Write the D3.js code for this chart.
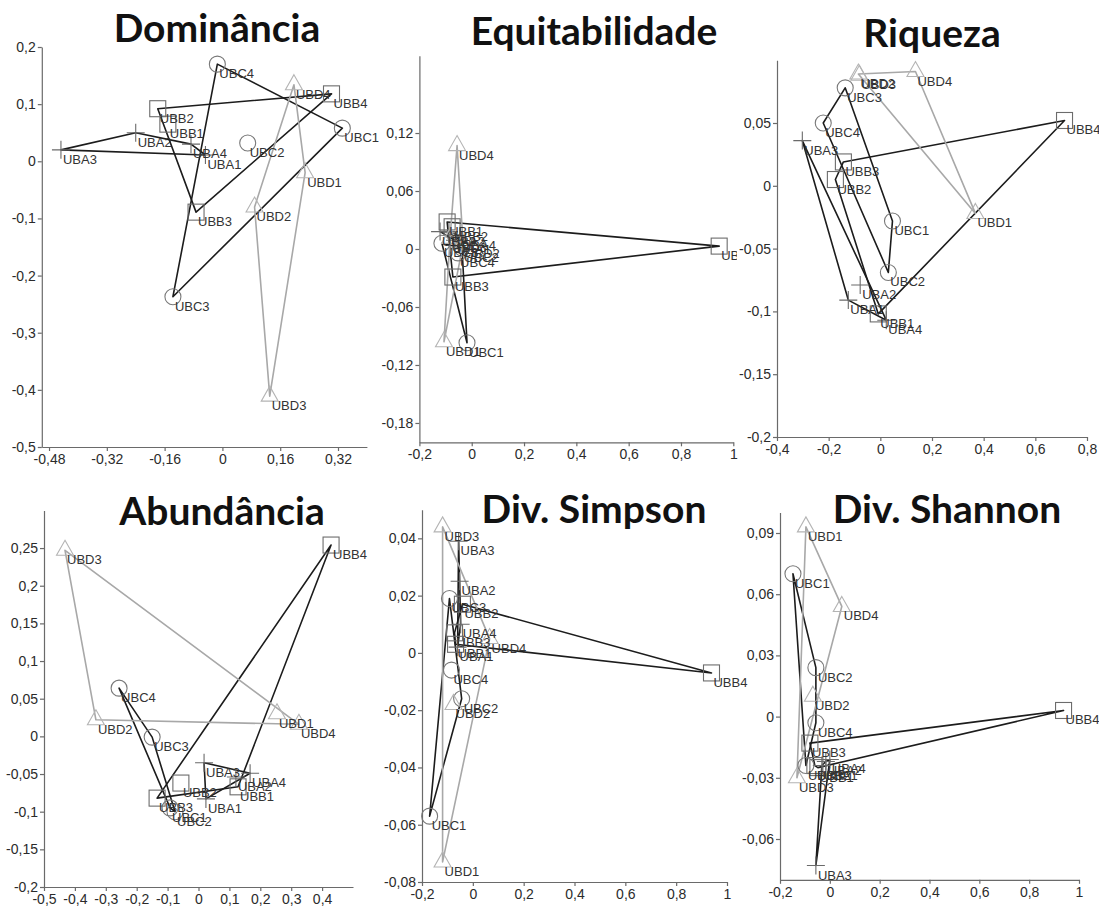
<!DOCTYPE html>
<html>
<head>
<meta charset="utf-8">
<script src="https://cdn.jsdelivr.net/npm/d3@7"></script>
<style>
  body { margin: 0; background: #fff; }
  svg { display: block; }
</style>
</head>
<body>
<svg id="chart" width="1099" height="909"></svg>
<script>
// Sample units (4 sites x 4 replicates)
const samples = ["UBA1","UBA2","UBA3","UBA4","UBB1","UBB2","UBB3","UBB4",
                 "UBC1","UBC2","UBC3","UBC4","UBD1","UBD2","UBD3","UBD4"];
const groups  = ["UBA","UBB","UBC","UBD"];

// Ordination scores (axis 1 / axis 2), one array per index
const dominanciaX = [-0.047,-0.240,-0.447,-0.087,-0.151,-0.179,-0.073,0.302,0.332,0.070,-0.137,-0.014,0.229,0.089,0.131,0.198];
const dominanciaY = [0.011,0.050,0.020,0.030,0.065,0.092,-0.089,0.118,0.058,0.032,-0.237,0.170,-0.020,-0.080,-0.411,0.134];

const equitabilidadeX = [-0.064,-0.087,-0.121,-0.045,-0.094,-0.075,-0.072,0.946,-0.018,-0.037,-0.114,-0.052,-0.106,-0.033,-0.083,-0.056];
const equitabilidadeY = [0.009,0.018,0.018,0.013,0.028,0.023,-0.029,0.003,-0.097,0.001,0.006,-0.004,-0.096,0.005,0.011,0.107];

const riquezaX = [-0.124,-0.078,-0.302,0.023,-0.008,-0.174,-0.143,0.713,0.047,0.031,-0.136,-0.221,0.368,-0.085,-0.081,0.136];
const riquezaY = [-0.091,-0.079,0.036,-0.107,-0.102,0.005,0.019,0.052,-0.028,-0.069,0.078,0.050,-0.022,0.089,0.088,0.091];

const abundanciaX = [0.024,0.121,0.018,0.167,0.128,-0.057,-0.134,0.429,-0.092,-0.076,-0.150,-0.257,0.254,-0.332,-0.432,0.325];
const abundanciaY = [-0.083,-0.054,-0.035,-0.049,-0.067,-0.062,-0.082,0.254,-0.095,-0.100,-0.001,0.064,0.030,0.022,0.247,0.016];

const simpsonX = [-0.060,-0.052,-0.056,-0.048,-0.068,-0.041,-0.072,0.939,-0.170,-0.044,-0.092,-0.084,-0.119,-0.076,-0.119,0.066];
const simpsonY = [0.002,0.025,0.039,0.010,0.003,0.017,0.007,-0.007,-0.057,-0.016,0.019,-0.006,-0.073,-0.018,0.044,0.005];

const shannonX = [-0.032,-0.016,-0.056,0.000,-0.048,-0.060,-0.080,0.938,-0.148,-0.056,-0.096,-0.056,-0.096,-0.068,-0.132,0.048];
const shannonY = [-0.024,-0.022,-0.073,-0.021,-0.025,-0.024,-0.013,0.003,0.070,0.024,-0.024,-0.003,0.093,0.010,-0.030,0.054];

// Tick labels
const dominanciaXTicks = [-0.48,-0.32,-0.16,0,0.16,0.32];
const dominanciaYTicks = [0.2,0.1,0,-0.1,-0.2,-0.3,-0.4,-0.5];
const equitabilidadeXTicks = [-0.2,0,0.2,0.4,0.6,0.8,1];
const equitabilidadeYTicks = [0.12,0.06,0,-0.06,-0.12,-0.18];
const riquezaXTicks = [-0.4,-0.2,0,0.2,0.4,0.6,0.8];
const riquezaYTicks = [0.05,0,-0.05,-0.1,-0.15,-0.2];
const abundanciaXTicks = [-0.5,-0.4,-0.3,-0.2,-0.1,0,0.1,0.2,0.3,0.4];
const abundanciaYTicks = [0.25,0.2,0.15,0.1,0.05,0,-0.05,-0.1,-0.15,-0.2];
const simpsonXTicks = [-0.2,0,0.2,0.4,0.6,0.8,1];
const simpsonYTicks = [0.04,0.02,0,-0.02,-0.04,-0.06,-0.08];
const shannonXTicks = [-0.2,0,0.2,0.4,0.6,0.8,1];
const shannonYTicks = [0.09,0.06,0.03,0,-0.03,-0.06];

// Panel layout: axis extents in data units and where they sit on the page
const panels = [
  { title: "Dominância", xs: dominanciaX, ys: dominanciaY, xt: dominanciaXTicks, yt: dominanciaYTicks,
    xd: [-0.5, 0.4], xr: [41.8, 366.9], yd: [-0.5, 0.2], yr: [447, 47], tx: 217, ty: 42 },
  { title: "Equitabilidade", xs: equitabilidadeX, ys: equitabilidadeY, xt: equitabilidadeXTicks, yt: equitabilidadeYTicks,
    xd: [-0.2, 1.0], xr: [419.4, 733.3], yd: [-0.2, 0.2], yr: [442.3, 55.7], tx: 594, ty: 45, clipRight: 737 },
  { title: "Riqueza", xs: riquezaX, ys: riquezaY, xt: riquezaXTicks, yt: riquezaYTicks,
    xd: [-0.4, 0.8], xr: [777, 1087], yd: [-0.2, 0.1], yr: [437, 60.2], tx: 932, ty: 47 },
  { title: "Abundância", xs: abundanciaX, ys: abundanciaY, xt: abundanciaXTicks, yt: abundanciaYTicks,
    xd: [-0.5, 0.5], xr: [44, 353], yd: [-0.2, 0.3], yr: [887, 510.4], tx: 222, ty: 525 },
  { title: "Div. Simpson", xs: simpsonX, ys: simpsonY, xt: simpsonXTicks, yt: simpsonYTicks,
    xd: [-0.2, 1.0], xr: [422, 727], yd: [-0.08, 0.05], yr: [882, 509.7], tx: 594, ty: 523 },
  { title: "Div. Shannon", xs: shannonX, ys: shannonY, xt: shannonXTicks, yt: shannonYTicks,
    xd: [-0.2, 1.0], xr: [780, 1079], yd: [-0.08, 0.1], yr: [879.8, 512.6], tx: 947, ty: 523 }
];

// Group appearance: marker shape, marker colour, hull colour
const groupStyle = {
  UBA: { shape: "plus",     mark: "#6a6a6a", hull: "#1c1c1c" },
  UBB: { shape: "square",   mark: "#6c6c6c", hull: "#1c1c1c" },
  UBC: { shape: "circle",   mark: "#787878", hull: "#1c1c1c" },
  UBD: { shape: "triangle", mark: "#b4b4b4", hull: "#a8a8a8" }
};

const fmt = v => String(v).replace(".", ",");
const svg = d3.select("#chart");
const labelFont = "'Liberation Sans', Arial, Helvetica, sans-serif";

panels.forEach((p, pi) => {
  const x = d3.scaleLinear().domain(p.xd).range(p.xr);
  const y = d3.scaleLinear().domain(p.yd).range(p.yr);
  const g = svg.append("g").attr("class", "panel");

  // axes
  const yAxis = g.append("g")
    .attr("transform", `translate(${p.xr[0]},0)`)
    .call(d3.axisLeft(y).tickValues(p.yt).tickFormat(fmt).tickSizeInner(4).tickSizeOuter(0).tickPadding(2));
  const xAxis = g.append("g")
    .attr("transform", `translate(0,${p.yr[0]})`)
    .call(d3.axisBottom(x).tickValues(p.xt).tickFormat(fmt).tickSizeInner(4).tickSizeOuter(0).tickPadding(3));
  [yAxis, xAxis].forEach(a => {
    a.attr("font-family", null).attr("font-size", null);
    a.select(".domain").attr("stroke", "#6a6a6a").attr("stroke-width", 1.2);
    a.selectAll(".tick line").attr("stroke", "#6a6a6a").attr("stroke-width", 1.2);
    a.selectAll(".tick text").attr("fill", "#2b2b2b")
      .style("font-family", labelFont).style("font-size", "14px");
  });

  const pts = samples.map((s, i) => ({ name: s, grp: s.slice(0, 3), px: x(p.xs[i]), py: y(p.ys[i]) }));

  // convex hull of each group
  const hullLayer = g.append("g");
  groups.forEach(gr => {
    const ring = d3.polygonHull(pts.filter(d => d.grp === gr).map(d => [d.px, d.py]));
    if (!ring) return;
    hullLayer.append("path")
      .attr("d", "M" + ring.map(c => c.join(",")).join("L") + "Z")
      .attr("fill", "none")
      .attr("stroke", groupStyle[gr].hull)
      .attr("stroke-width", 1.6)
      .attr("stroke-linejoin", "round");
  });

  // markers
  const markLayer = g.append("g");
  pts.forEach(d => {
    const st = groupStyle[d.grp];
    const m = markLayer.append("g").attr("transform", `translate(${d.px},${d.py})`);
    if (st.shape === "plus") {
      m.append("path").attr("d", "M-9,0H9M0,-9V9");
    } else if (st.shape === "square") {
      m.append("rect").attr("x", -8).attr("y", -8).attr("width", 16).attr("height", 16);
    } else if (st.shape === "circle") {
      m.append("circle").attr("r", 8);
    } else {
      m.append("path").attr("d", "M0,-10L8.5,5L-8.5,5Z");
    }
    m.selectAll("*").attr("fill", "none").attr("stroke", st.mark).attr("stroke-width", 1.1);
  });

  // sample labels
  let labelLayer = g.append("g");
  if (p.clipRight) {
    const id = "clip" + pi;
    svg.append("clipPath").attr("id", id)
      .append("rect").attr("x", 0).attr("y", 0).attr("width", p.clipRight).attr("height", 909);
    labelLayer.attr("clip-path", `url(#${id})`);
  }
  labelLayer.selectAll("text").data(pts).join("text")
    .attr("x", d => d.px + 2)
    .attr("y", d => d.py + 14)
    .attr("fill", "#333")
    .style("font-family", labelFont)
    .style("font-size", "13px")
    .text(d => d.name);

  // panel title
  g.append("text")
    .attr("x", p.tx).attr("y", p.ty)
    .attr("text-anchor", "middle")
    .attr("fill", "#111")
    .style("font-family", "Lato, 'Open Sans', sans-serif")
    .style("font-weight", 700)
    .style("font-size", "39px")
    .text(p.title);
});
</script>
</body>
</html>
